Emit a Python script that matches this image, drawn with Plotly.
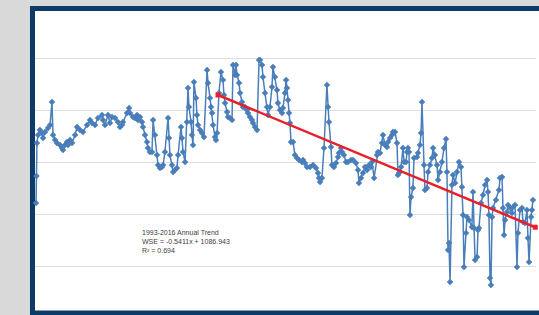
import plotly.graph_objects as go

# Decimal year of each observation
years = [
    1979.52, 1979.55, 1979.59, 1979.67, 1979.81, 1979.96, 1980.04, 1980.19, 1980.41, 1980.56,
    1980.70, 1980.78, 1980.93, 1981.07, 1981.30, 1981.44, 1981.52, 1981.67, 1981.81, 1981.89,
    1982.04, 1982.19, 1982.41, 1982.56, 1982.78, 1983.00, 1983.30, 1983.52, 1983.67, 1983.89,
    1984.11, 1984.41, 1984.48, 1984.63, 1984.85, 1985.00, 1985.15, 1985.37, 1985.59, 1985.74,
    1985.89, 1985.96, 1986.26, 1986.41, 1986.48, 1986.70, 1986.85, 1987.00, 1987.07, 1987.22,
    1987.37, 1987.44, 1987.59, 1987.74, 1987.81, 1987.96, 1988.11, 1988.19, 1988.33, 1988.48,
    1988.56, 1988.70, 1988.85, 1988.93, 1989.07, 1989.30, 1989.37, 1989.44, 1989.59, 1989.67,
    1989.81, 1989.96, 1990.04, 1990.26, 1990.33, 1990.41, 1990.56, 1990.70, 1990.78, 1990.85,
    1991.00, 1991.07, 1991.15, 1991.22, 1991.37, 1991.44, 1991.52, 1991.67, 1991.81, 1991.96,
    1992.19, 1992.26, 1992.41, 1992.48, 1992.56, 1992.63, 1992.78, 1992.85, 1992.93, 1993.07,
    1993.22, 1993.37, 1993.44, 1993.52, 1993.67, 1993.74, 1993.89, 1994.04, 1994.11, 1994.26,
    1994.33, 1994.41, 1994.56, 1994.63, 1994.78, 1994.85, 1995.00, 1995.15, 1995.22, 1995.37,
    1995.52, 1995.59, 1995.74, 1995.89, 1996.04, 1996.11, 1996.26, 1996.33, 1996.48, 1996.63,
    1996.70, 1996.85, 1997.00, 1997.07, 1997.22, 1997.37, 1997.44, 1997.59, 1997.74, 1997.81,
    1997.96, 1998.04, 1998.11, 1998.19, 1998.26, 1998.33, 1998.41, 1998.56, 1998.70, 1998.85,
    1999.00, 1999.22, 1999.30, 1999.44, 1999.59, 1999.81, 2000.04, 2000.26, 2000.41, 2000.48,
    2000.56, 2000.70, 2000.85, 2001.07, 2001.15, 2001.22, 2001.37, 2001.44, 2001.59, 2001.74,
    2001.89, 2001.96, 2002.11, 2002.19, 2002.33, 2002.48, 2002.63, 2002.85, 2003.00, 2003.22,
    2003.37, 2003.44, 2003.59, 2003.74, 2003.89, 2004.04, 2004.19, 2004.33, 2004.41, 2004.56,
    2004.78, 2004.85, 2005.00, 2005.15, 2005.22, 2005.37, 2005.52, 2005.59, 2005.74, 2005.89,
    2005.96, 2006.11, 2006.26, 2006.33, 2006.41, 2006.56, 2006.70, 2006.78, 2006.93, 2007.00,
    2007.07, 2007.15, 2007.22, 2007.30, 2007.44, 2007.52, 2007.74, 2007.81, 2007.96, 2008.04,
    2008.11, 2008.26, 2008.33, 2008.48, 2008.56, 2008.70, 2008.85, 2008.93, 2009.07, 2009.22,
    2009.30, 2009.44, 2009.59, 2009.74, 2009.89, 2009.96, 2010.04, 2010.11, 2010.19, 2010.33,
    2010.41, 2010.56, 2010.70, 2010.85, 2011.00, 2011.07, 2011.15, 2011.22, 2011.37, 2011.44,
    2011.59, 2011.81, 2011.89, 2011.96, 2012.04, 2012.19, 2012.26, 2012.33, 2012.48, 2012.63,
    2012.78, 2012.93, 2013.00, 2013.07, 2013.15, 2013.22, 2013.30, 2013.37, 2013.59, 2013.81,
    2013.89, 2014.04, 2014.11, 2014.19, 2014.26, 2014.41, 2014.48, 2014.63, 2014.78, 2014.85,
    2015.00, 2015.15, 2015.22, 2015.37, 2015.52, 2015.59, 2015.74, 2015.89, 2015.96, 2016.04,
    2016.19, 2016.26, 2016.33,
]

# Water surface elevation (ft)
wse = [
    1076.56, 1079.15, 1082.33, 1083.10, 1083.58, 1083.29, 1082.81, 1083.38, 1083.77, 1084.06,
    1086.27, 1083.10, 1082.62, 1082.33, 1082.13, 1081.85, 1081.65, 1082.13, 1082.42, 1082.13,
    1082.62, 1082.33, 1083.10, 1083.87, 1083.58, 1083.38, 1084.06, 1084.54, 1084.25, 1084.06,
    1084.73, 1085.02, 1084.54, 1084.06, 1085.02, 1084.25, 1084.83, 1084.73, 1084.35, 1083.87,
    1084.06, 1084.35, 1085.21, 1085.69, 1085.21, 1084.83, 1084.73, 1085.02, 1084.54, 1084.83,
    1084.35, 1083.87, 1083.10, 1082.42, 1081.85, 1081.46, 1081.46, 1084.54, 1083.10, 1081.17,
    1080.21, 1079.92, 1080.02, 1080.21, 1081.46, 1084.73, 1082.81, 1081.17, 1080.21, 1079.54,
    1079.73, 1079.92, 1081.17, 1083.87, 1082.81, 1081.46, 1080.50, 1084.35, 1087.62, 1085.79,
    1084.35, 1083.10, 1082.13, 1088.19, 1086.65, 1085.02, 1084.06, 1083.58, 1083.29, 1082.90,
    1089.35, 1088.10, 1086.65, 1085.79, 1085.21, 1084.06, 1082.90, 1082.62, 1083.29, 1087.13,
    1089.15, 1088.38, 1086.94, 1086.17, 1085.31, 1084.83, 1084.73, 1084.54, 1089.83, 1088.87,
    1089.83, 1088.87, 1088.10, 1087.13, 1086.27, 1085.79, 1085.79, 1085.50, 1085.21, 1084.83,
    1084.54, 1084.25, 1083.87, 1083.58, 1090.31, 1090.31, 1089.83, 1088.67, 1087.13, 1085.79,
    1085.02, 1085.79, 1087.71, 1089.63, 1088.67, 1087.42, 1086.17, 1085.50, 1085.21, 1085.69,
    1087.13, 1088.38, 1087.62, 1086.46, 1085.21, 1084.25, 1082.42, 1082.42, 1081.17, 1080.88,
    1080.69, 1080.50, 1080.69, 1080.40, 1080.02, 1080.02, 1080.21, 1079.92, 1079.44, 1078.96,
    1078.58, 1078.96, 1081.85, 1087.90, 1085.79, 1084.35, 1081.94, 1080.21, 1080.02, 1080.40,
    1080.98, 1081.37, 1081.85, 1081.46, 1081.17, 1080.50, 1080.50, 1080.69, 1080.69, 1080.40,
    1079.73, 1078.48, 1078.96, 1079.44, 1080.02, 1079.73, 1080.21, 1080.02, 1080.50, 1078.96,
    1081.17, 1081.46, 1081.37, 1082.33, 1083.10, 1082.13, 1081.94, 1082.42, 1082.81, 1083.10,
    1083.38, 1083.38, 1082.33, 1079.25, 1079.44, 1080.02, 1081.85, 1080.50, 1080.50, 1081.46,
    1081.85, 1081.46, 1075.40, 1077.13, 1078.00, 1080.88, 1080.98, 1081.37, 1082.13, 1083.29,
    1086.27, 1080.21, 1077.81, 1078.00, 1079.54, 1080.21, 1080.88, 1081.85, 1081.17, 1080.21,
    1078.77, 1079.54, 1080.50, 1081.85, 1082.71, 1079.54, 1072.04, 1072.71, 1068.96, 1078.29,
    1079.25, 1078.48, 1079.54, 1080.50, 1080.02, 1078.10, 1075.40, 1070.40, 1073.67, 1075.21,
    1074.92, 1074.25, 1077.62, 1074.15, 1071.08, 1071.37, 1073.96, 1074.15, 1076.56, 1077.33,
    1078.29, 1078.77, 1077.62, 1075.40, 1069.35, 1068.67, 1075.21, 1076.08, 1076.85, 1077.81,
    1078.96, 1079.06, 1076.08, 1073.48, 1074.92, 1075.69, 1076.37, 1076.08, 1075.60, 1076.17,
    1076.37, 1070.40, 1073.67, 1075.88, 1076.08, 1074.73, 1074.63, 1075.88, 1073.19, 1070.88,
    1075.21, 1075.88, 1076.85,
]

# 1993-2016 annual trend (x = years since 1993)
trend_slope = -0.5411
trend_intercept = 1086.943
trend_r2 = 0.694
trend_start_year = 1993.0
trend_end_year = 2016.5

trend_x = [trend_start_year, trend_end_year]
trend_y = [trend_intercept + trend_slope * (yr - trend_start_year) for yr in trend_x]

W, H = 539, 315
L, R, T, B = 35, 3, 11, 4
plot_w = W - L - R
plot_h = H - T - B

fig = go.Figure()
fig.add_trace(go.Scatter(
    x=years, y=wse, mode="lines+markers",
    line=dict(color="#4a7ebb", width=1.5),
    marker=dict(symbol="diamond", size=5, color="#4a7ebb"),
    cliponaxis=False, showlegend=False,
))
fig.add_trace(go.Scatter(
    x=trend_x, y=trend_y, mode="lines+markers",
    line=dict(color="#e8202a", width=2.5),
    marker=dict(symbol="square", size=5, color="#e8202a"),
    cliponaxis=False, showlegend=False,
))

def px_x(p):
    return (p - L) / plot_w

def px_y(p):
    return (H - B - p) / plot_h

# white panel with navy frame (right edge off-page)
fig.add_shape(type="rect", xref="paper", yref="paper",
              x0=px_x(32.5), x1=px_x(560), y0=px_y(313.0), y1=px_y(8.5),
              line=dict(color="#0d3b69", width=5), fillcolor="white", layer="below")

fig.add_annotation(
    xref="paper", yref="paper", x=px_x(140), y=px_y(227),
    xanchor="left", yanchor="top", align="left", showarrow=False,
    text=("1993-2016 Annual Trend<br>"
          f"WSE = {trend_slope}x + {trend_intercept}<br>"
          f"R² = {trend_r2}"),
    font=dict(family="Liberation Sans, Arial, sans-serif", size=7, color="#404040"),
)

fig.update_layout(
    width=W, height=H,
    margin=dict(l=L, r=R, t=T, b=B, pad=0),
    paper_bgcolor="#d9d9d9", plot_bgcolor="white",
    xaxis=dict(range=[1993 - (218 - L) / 13.5, 1993 + (W - R - 218) / 13.5],
               showgrid=False, zeroline=False, showticklabels=False, ticks="",
               showline=False),
    yaxis=dict(range=[1085.5 - (H - B - 110) / 10.4, 1085.5 + (110 - T) / 10.4],
               tick0=0.5, dtick=5, showgrid=True, gridcolor="#dedede", gridwidth=1,
               zeroline=False, showticklabels=False, ticks="", showline=False),
)

fig.write_html(
    "out.html",
    config={"displayModeBar": False},
    post_script="document.body.style.margin='0';document.body.style.overflow='hidden';"
                "document.body.style.background='#d9d9d9';",
)
